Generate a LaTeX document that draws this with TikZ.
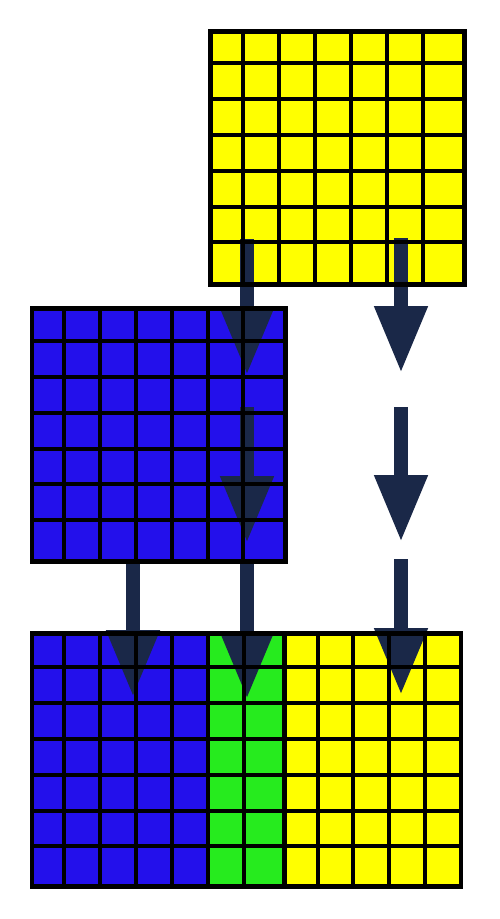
\documentclass[tikz,border=0pt]{standalone}
\usetikzlibrary{arrows.meta}
\definecolor{gyellow}{RGB}{255,255,0}
\definecolor{gblue}{RGB}{35,16,235}
\definecolor{ggreen}{RGB}{38,235,30}
\definecolor{navyarrow}{RGB}{26,40,72}
\tikzset{
  innerline/.style={black,line width=4pt},
  outerline/.style={black,line width=4.8pt,line join=miter},
  bigarrow/.style={navyarrow,line width=14pt,-{Triangle[width=50pt,length=67pt]}}
}
% #1 x0, #2 x1, #3 y0, #4 y1, #5 inner xs, #6 inner ys
\newcommand\mygridlines[6]{%
  \foreach \xx in {#5} {\draw[innerline] (\xx,#3) -- (\xx,#4);}
  \foreach \yy in {#6} {\draw[innerline] (#1,\yy) -- (#2,\yy);}
  \draw[outerline] (#1,#3) rectangle (#2,#4);
}
\begin{document}
\begin{tikzpicture}[x=1pt,y=-1pt]
\useasboundingbox (0,0) rectangle (500,919);
% fills
\fill[gyellow] (210.5,31.3) rectangle (464.5,284.5);
\fill[gblue] (32,308.7) rectangle (285.3,561.5);
\fill[gblue] (32,633.3) rectangle (208,886.5);
\fill[ggreen] (208,633.3) rectangle (284.5,886.5);
\fill[gyellow] (284.5,633.3) rectangle (461,886.5);
% arrow end points
\coordinate (a1s) at (247,239);  \coordinate (a1e) at (247,375);
\coordinate (a2s) at (401,238);  \coordinate (a2e) at (401,373);
\coordinate (a3s) at (247,407);  \coordinate (a3e) at (247,543);
\coordinate (a4s) at (401,407);  \coordinate (a4e) at (401,542);
\coordinate (a5s) at (133,563);  \coordinate (a5e) at (133,697);
\coordinate (a6s) at (247,563);  \coordinate (a6e) at (247,699);
\coordinate (a7s) at (401,559);  \coordinate (a7e) at (401,695);
\draw[bigarrow] (a1s) -- (a1e);
\draw[bigarrow] (a2s) -- (a2e);
\draw[bigarrow] (a3s) -- (a3e);
\draw[bigarrow] (a4s) -- (a4e);
\draw[bigarrow] (a5s) -- (a5e);
\draw[bigarrow] (a6s) -- (a6e);
\draw[bigarrow] (a7s) -- (a7e);
% grid lines
\mygridlines{210.5}{464.5}{31.3}{284.5}{243.3,279.3,315.3,350.7,386.7,422.7}{63.3,99,135,171,206.7,242.3}
\mygridlines{32}{285.3}{308.7}{561.5}{64.3,100,136,171.7,207.7,243.3}{341,377,412.7,448.5,484.3,520}
\mygridlines{32}{284.5}{633.3}{886.5}{64,100,136,172,208,244}{666.7,702.7,738.7,774.7,810.7,846.3}
\mygridlines{284.5}{461}{633.3}{886.5}{317.7,353.3,389.3,425}{666.7,702.7,738.7,774.7,810.7,846.3}
\end{tikzpicture}
\end{document}
